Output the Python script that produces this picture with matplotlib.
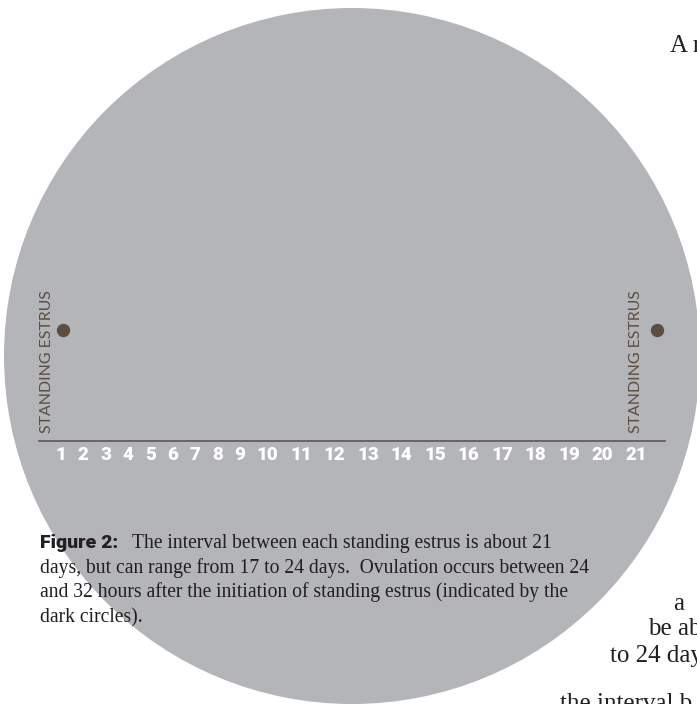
import matplotlib
matplotlib.use("Agg")
import matplotlib.pyplot as plt
from matplotlib.patches import Circle
from matplotlib.transforms import offset_copy

W, H = 697, 704  # output size in pixels (dpi 100)

# ── data ─────────────────────────────────────────────────────────────
DAYS = [1, 2, 3, 4, 5, 6, 7, 8, 9, 10, 11, 12, 13, 14, 15, 16, 17, 18,
        19, 20, 21]
ESTRUS_DAYS = [1, 21]
ESTRUS_LABEL = "STANDING ESTRUS"

CAPTION_HEAD = "Figure 2:"
CAPTION_LINES = [
    "The interval between each standing estrus is about 21",
    "days, but can range from 17 to 24 days.  Ovulation occurs between 24",
    "and 32 hours after the initiation of standing estrus (indicated by the",
    "dark circles).",
]
# body text of the page that runs off the right edge
BODY_FRAGMENTS = ["A r", "a", "be ab", "to 24 day", "the interval b"]

# ── style ────────────────────────────────────────────────────────────
C_DISC = "#b3b5b9"
C_BROWN = "#5b4d40"
C_LINE = "#60564d"
C_TEXT = "#231f20"
SERIF = "Liberation Serif"


def fx(x):
    return x / W


def fy(y):
    return 1 - y / H


fig = plt.figure(figsize=(W / 100, H / 100), dpi=100)

# background disc (pixel coordinates)
bg = fig.add_axes([0, 0, 1, 1])
bg.set_xlim(0, W)
bg.set_ylim(H, 0)
bg.axis("off")
bg.add_patch(Circle((352, 356), 348, color=C_DISC, lw=0))

# day positions follow the typeset label widths (one cell per character,
# one cell of space between labels)
cells = []
prev = None
for d in DAYS:
    w = len(str(d))
    pos = w / 2 if prev is None else cells[-1] + prev / 2 + 1 + w / 2
    cells.append(pos)
    prev = w
day_x = dict(zip(DAYS, cells))

ax = fig.add_axes([fx(39), fy(440.5), (665 - 39) / W, 150.5 / H])
ax.set_xlim(cells[0] - 1.97, cells[-1] + 2.6)
ax.set_ylim(0, 1)
ax.axis("off")
ax.axhline(0, color=C_LINE, lw=1.2, clip_on=False)

for d in DAYS:
    ax.annotate(str(d), (day_x[d], 0), xytext=(0, -10.5),
                textcoords="offset points", ha="center", va="center",
                color="white", fontsize=13.5, family="Roboto",
                fontweight="heavy", annotation_clip=False)

for d, dx in zip(ESTRUS_DAYS, [-10, 0]):
    ax.annotate(ESTRUS_LABEL, (day_x[d], 0), xytext=(dx, 5.4),
                textcoords="offset points", rotation=90, ha="center",
                va="bottom", color=C_BROWN, fontsize=11.4, family="Lato",
                fontweight="normal", annotation_clip=False)

for d, dx in zip(ESTRUS_DAYS, [1.5, 15]):
    tr = offset_copy(ax.transData, fig=fig, x=dx, y=0, units="points")
    ax.plot([day_x[d]], [0.734], "o", ms=8.6, color=C_BROWN,
            transform=tr, clip_on=False)

# caption
head = fig.text(fx(40), fy(548), CAPTION_HEAD, family="Roboto",
                fontweight="heavy", fontsize=14, color=C_TEXT,
                va="baseline")
bb = head.get_window_extent(fig.canvas.get_renderer())
for i, line in enumerate(CAPTION_LINES):
    x0 = fx(bb.x1 + 14) if i == 0 else fx(40)
    fig.text(x0, fy(548 + 24.7 * i), line, family=SERIF, fontsize=14.1,
             color=C_TEXT, va="baseline")

for txt, x, y in zip(BODY_FRAGMENTS, [670, 673, 648, 610, 560],
                     [52, 610, 635, 662, 710]):
    fig.text(fx(x), fy(y), txt, family=SERIF, fontsize=18, color=C_TEXT,
             va="baseline")

fig.savefig("out.png", dpi=100)
